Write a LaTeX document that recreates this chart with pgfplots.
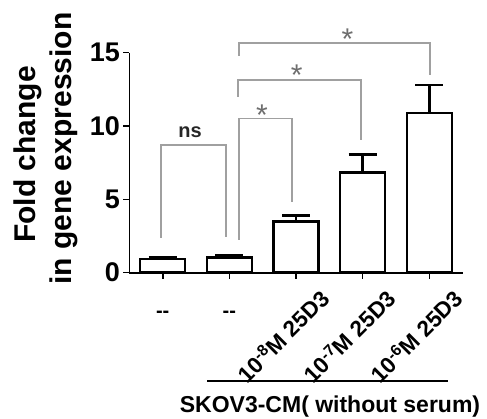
\documentclass[border=0pt]{standalone}
\usepackage{fontspec}
\setmainfont{Liberation Sans}
\usepackage{pgfplots}
\pgfplotsset{compat=1.18}
\definecolor{brk}{HTML}{A0A0A0}
\definecolor{stc}{HTML}{6E6E6E}
\begin{document}
\begin{tikzpicture}[x=1pt,y=1pt]
\path[use as bounding box] (0,0) rectangle (487,419);
\begin{axis}[
  at={(129.4pt,146.3pt)}, anchor=south west,
  scale only axis, width=333.25pt, height=220pt,
  xmin=-0.5, xmax=4.5, ymin=0, ymax=15,
  axis x line=bottom, axis y line=left,
  axis line style={line width=1.8pt, -},
  xtick={0,1,2,3,4}, xticklabels={},
  ytick={0,5,10,15},
  tick align=outside,
  major tick length=6pt,
  tick style={line width=1.6pt, black},
  /pgf/number format/assume math mode=true,
  yticklabel style={font=\fontsize{27}{30}\selectfont\bfseries},
  clip=false,
]
\addplot[ybar, bar width=45pt, fill=white, draw=black, line width=2.4pt,
  error bars/.cd, y dir=plus, y explicit,
  error bar style={line width=2.4pt, black},
  error mark options={rotate=90, mark size=14pt, line width=2.4pt, black}]
  coordinates {(0,0.95) +- (0,0.12) (1,1.04) +- (0,0.16) (2,3.5) +- (0,0.39) (3,6.84) +- (0,1.23) (4,10.89) +- (0,1.91)};

% significance brackets
\draw[brk, line width=1.8pt] (axis cs:-0.03,2.37) |- (axis cs:0.95,8.69) -- (axis cs:0.95,2.43);
\draw[brk, line width=1.8pt] (axis cs:1.14,2.23) |- (axis cs:1.94,10.52) -- (axis cs:1.94,4.8);
\draw[brk, line width=1.8pt] (axis cs:1.13,12.0) |- (axis cs:2.97,13.14) -- (axis cs:2.97,9.05);
\draw[brk, line width=1.8pt] (axis cs:1.14,14.8) |- (axis cs:4.01,15.66) -- (axis cs:4.01,13.48);

\node[anchor=base, inner sep=0, text=black!85, font=\fontsize{20}{20}\selectfont\bfseries] at (axis cs:0.41,9.245) {ns};
\node[anchor=base, inner sep=0, text=stc, font=\fontsize{30}{30}\selectfont] at (axis cs:1.49,10.044) {*};
\node[anchor=base, inner sep=0, text=stc, font=\fontsize{30}{30}\selectfont] at (axis cs:2.01,12.774) {*};
\node[anchor=base, inner sep=0, text=stc, font=\fontsize{30}{30}\selectfont] at (axis cs:2.77,15.184) {*};

% x tick labels
\node[anchor=base, inner sep=0, font=\fontsize{20}{20}\selectfont\bfseries] at (axis cs:0,-3.048) {-{}-};
\node[anchor=base, inner sep=0, font=\fontsize{20}{20}\selectfont\bfseries] at (axis cs:1,-3.048) {-{}-};
\node[rotate=45, anchor=east, inner sep=0, font=\fontsize{22.5}{22.5}\selectfont\bfseries] at (axis cs:2.43,-1.45) {10\textsuperscript{-8}M 25D3};
\node[rotate=45, anchor=east, inner sep=0, font=\fontsize{22.5}{22.5}\selectfont\bfseries] at (axis cs:3.43,-1.45) {10\textsuperscript{-7}M 25D3};
\node[rotate=45, anchor=east, inner sep=0, font=\fontsize{22.5}{22.5}\selectfont\bfseries] at (axis cs:4.43,-1.45) {10\textsuperscript{-6}M 25D3};
\end{axis}

% group line and label
\draw[line width=1.8pt] (207,38) -- (448,38);
\node[anchor=base, inner sep=0, font=\fontsize{23}{23}\selectfont\bfseries] at (330,6) {SKOV3-CM( without serum)};

% y label
\node[rotate=90, anchor=base, inner sep=0, font=\fontsize{30}{30}\selectfont\bfseries] at (35,264.5) {Fold change};
\node[rotate=90, anchor=base, inner sep=0, font=\fontsize{30}{30}\selectfont\bfseries] at (71.7,270.5) {in gene expression};
\end{tikzpicture}
\end{document}
